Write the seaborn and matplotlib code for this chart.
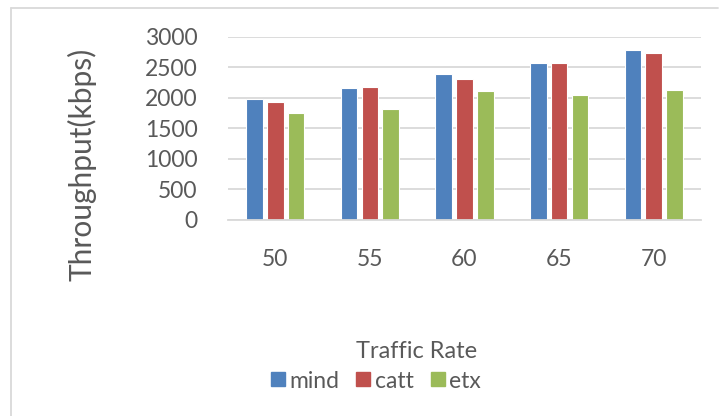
import matplotlib
matplotlib.use("Agg")
import matplotlib.pyplot as plt
from matplotlib.lines import Line2D
import seaborn as sns
import pandas as pd

traffic_rate = ["50", "55", "60", "65", "70"]
mind = [1980, 2160, 2390, 2565, 2785]
catt = [1935, 2170, 2310, 2575, 2740]
etx = [1745, 1810, 2105, 2040, 2120]
series_names = ["mind", "catt", "etx"]
colors = ["#4F81BD", "#C0504D", "#9BBB59"]
y_ticks = [0, 500, 1000, 1500, 2000, 2500, 3000]

rows = []
for name, vals in zip(series_names, [mind, catt, etx]):
    for rate, v in zip(traffic_rate, vals):
        rows.append({"Traffic Rate": rate, "series": name, "value": v})
df = pd.DataFrame(rows)

sns.set_theme(style="white")
plt.rcParams["font.family"] = ["Lato", "DejaVu Sans"]
text_color = "#595959"

fig = plt.figure(figsize=(7.19, 4.16), dpi=100)
ax = fig.add_axes([228 / 719, 1 - 220 / 416, (701 - 228) / 719, (220 - 36.7) / 416])

sns.barplot(data=df, x="Traffic Rate", y="value", hue="series",
            hue_order=series_names, order=traffic_rate,
            palette=colors, saturation=1, width=0.66, gap=0.2,
            edgecolor="white", linewidth=0.8, ax=ax, legend=False)

ax.set_ylim(0, 3000)
ax.set_yticks(y_ticks)
ax.set_xlim(-0.5, 4.5)
ax.yaxis.grid(True, color="#D9D9D9", linewidth=1.3)
ax.set_axisbelow(True)
for side in ["top", "right", "left"]:
    ax.spines[side].set_visible(False)
ax.spines["bottom"].set_color("#D9D9D9")
ax.spines["bottom"].set_linewidth(1.3)
ax.tick_params(axis="both", length=0, labelsize=16.5, colors=text_color)
ax.tick_params(axis="y", pad=22)
ax.tick_params(axis="x", pad=21)
ax.set_xlabel("")
ax.set_ylabel("")

fig.text(82 / 719, 1 - 164 / 416, "Throughput(kbps)", rotation=90,
         ha="center", va="center", fontsize=21.5, color=text_color)
fig.text(417 / 719, 1 - 352 / 416, "Traffic Rate", ha="center", va="center",
         fontsize=17, color=text_color)

handles = [Line2D([], [], marker="s", linestyle="", markersize=10,
                  markerfacecolor=c, markeredgecolor=c) for c in colors]
fig.legend(handles, series_names, loc="center", ncol=3,
           bbox_to_anchor=(376 / 719, 1 - 381 / 416), frameon=False,
           fontsize=16.5, handlelength=0.6, handletextpad=0.2,
           columnspacing=0.75, labelcolor=text_color)

# chart frame: top and left edges
fig.add_artist(Line2D([10.5 / 719, 718 / 719], [1 - 7.5 / 416, 1 - 7.5 / 416],
                      transform=fig.transFigure, color="#D9D9D9", linewidth=1.3))
fig.add_artist(Line2D([10.5 / 719, 10.5 / 719], [0, 1 - 7.5 / 416],
                      transform=fig.transFigure, color="#D9D9D9", linewidth=1.3))

fig.savefig("out.png", dpi=100, facecolor="white")
